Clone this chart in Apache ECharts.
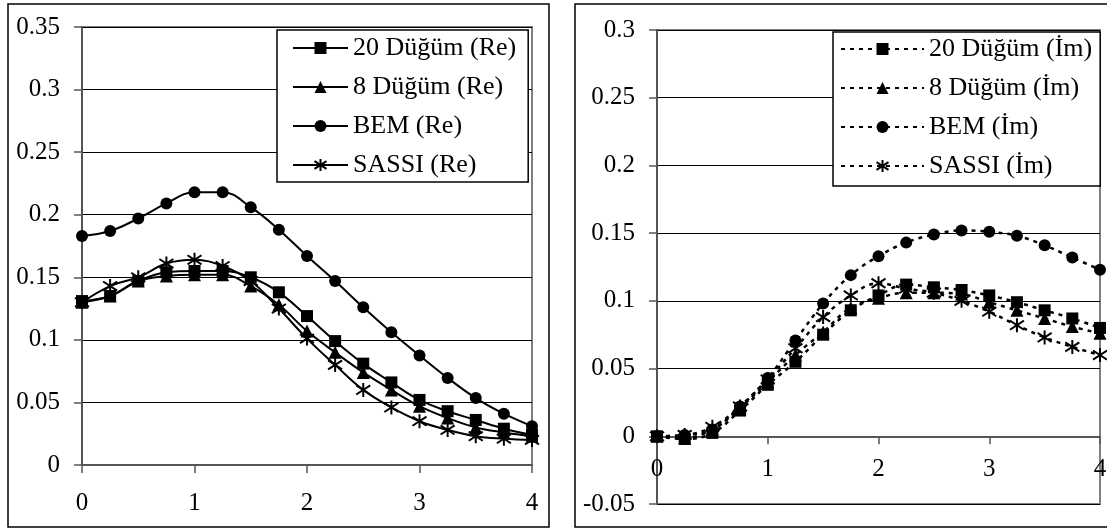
<!DOCTYPE html>
<html>
<head>
<meta charset="utf-8">
<script src="https://cdn.jsdelivr.net/npm/echarts@6/dist/echarts.min.js"></script>
<style>
  body { margin: 0; background: #fff; }
  #chart { width: 1107px; height: 531px; }
</style>
</head>
<body>
<div id="chart"></div>
<script>
// frequency points (x axis)
var xs = [0, 0.25, 0.5, 0.75, 1, 1.25, 1.5, 1.75, 2, 2.25, 2.5, 2.75, 3, 3.25, 3.5, 3.75, 4];

// left chart - real part
var namesRe = ['20 Düğüm (Re)', '8 Düğüm (Re)', 'BEM (Re)', 'SASSI (Re)'];
var node20Re = [0.131, 0.135, 0.147, 0.154, 0.155, 0.155, 0.150, 0.138, 0.119, 0.099, 0.081, 0.066, 0.052, 0.043, 0.036, 0.029, 0.024];
var node8Re  = [0.130, 0.135, 0.147, 0.151, 0.152, 0.152, 0.143, 0.128, 0.107, 0.090, 0.074, 0.060, 0.047, 0.0375, 0.030, 0.026, 0.023];
var bemRe    = [0.183, 0.187, 0.197, 0.209, 0.218, 0.218, 0.206, 0.188, 0.167, 0.147, 0.126, 0.106, 0.0875, 0.0696, 0.0535, 0.041, 0.031];
var sassiRe  = [0.130, 0.143, 0.150, 0.161, 0.164, 0.159, 0.147, 0.125, 0.101, 0.080, 0.060, 0.046, 0.035, 0.028, 0.023, 0.021, 0.020];

// right chart - imaginary part
var namesIm = ['20 Düğüm (İm)', '8 Düğüm (İm)', 'BEM (İm)', 'SASSI (İm)'];
var node20Im = [0, -0.002, 0.0025, 0.019, 0.038, 0.055, 0.075, 0.093, 0.104, 0.112, 0.110, 0.108, 0.104, 0.099, 0.093, 0.087, 0.080];
var node8Im  = [0, -0.001, 0.005, 0.021, 0.040, 0.060, 0.077, 0.095, 0.102, 0.106, 0.106, 0.105, 0.099, 0.093, 0.087, 0.081, 0.076];
var bemIm    = [0, 0.001, 0.005, 0.022, 0.043, 0.0707, 0.098, 0.119, 0.133, 0.143, 0.149, 0.152, 0.151, 0.148, 0.141, 0.132, 0.123];
var sassiIm  = [0, 0.001, 0.007, 0.022, 0.042, 0.065, 0.088, 0.104, 0.113, 0.109, 0.106, 0.100, 0.092, 0.082, 0.073, 0.066, 0.060];

var chart = echarts.init(document.getElementById('chart'));

var font = 'Liberation Serif';
var star = 'path://M10,0L10,20M2.5,3.5L17.5,16.5M2.5,16.5L17.5,3.5';
var symbols = ['rect', 'triangle', 'circle', star];
var sizes = [12, 13, 12, 14];

function pairs(arr) {
  return xs.map(function (x, i) { return [x, arr[i]]; });
}

function makeSeries(names, arrays, idx, dashed) {
  return arrays.map(function (arr, k) {
    return {
      name: names[k],
      type: 'line',
      xAxisIndex: idx,
      yAxisIndex: idx,
      data: pairs(arr),
      smooth: 0.4,
      symbol: symbols[k],
      symbolSize: sizes[k],
      showAllSymbol: true,
      lineStyle: { color: '#000', width: dashed ? 2.5 : 2, type: dashed ? [4, 5] : 'solid' },
      itemStyle: k === 3
        ? { color: '#000', borderColor: '#000', borderWidth: 2 }
        : { color: '#000', borderWidth: 0 },
      emphasis: { disabled: true }
    };
  });
}

// offset moves the right chart's x axis up onto the zero line
function xAxis(idx, margin, offset) {
  return {
    type: 'value', gridIndex: idx, min: 0, max: 4, interval: 1,
    offset: offset,
    axisLine: { onZero: false, lineStyle: { color: '#555', width: 2 } },
    axisTick: { show: true, inside: false, length: 8, lineStyle: { color: '#555', width: 1.5 } },
    axisLabel: { fontFamily: font, fontSize: 25, color: '#000', margin: margin },
    splitLine: { show: false }
  };
}

function yAxis(idx, min, max) {
  return {
    type: 'value', gridIndex: idx, min: min, max: max, interval: 0.05,
    axisLine: { show: true, onZero: false, lineStyle: { color: '#555', width: 2 } },
    axisTick: { show: true, inside: false, length: 8, lineStyle: { color: '#555', width: 1.5 } },
    axisLabel: { fontFamily: font, fontSize: 25, color: '#000', margin: 22 },
    splitLine: { show: true, lineStyle: { color: '#000', width: 1 } }
  };
}

function legend(names, left, top, iconW, pad) {
  return {
    data: names,
    orient: 'vertical',
    left: left,
    top: top,
    itemWidth: iconW,
    itemHeight: 15,
    itemGap: 11,
    itemTextGap: 6,
    padding: pad,
    borderColor: '#000',
    borderWidth: 1.5,
    backgroundColor: '#fff',
    selectedMode: false,
    textStyle: { fontFamily: font, fontSize: 26, lineHeight: 28, color: '#000' }
  };
}

var option = {
  animation: false,
  backgroundColor: '#fff',
  graphic: [
    { type: 'rect', shape: { x: 8, y: 4, width: 541, height: 523 }, style: { fill: 'none', stroke: '#000', lineWidth: 1.5 } },
    { type: 'rect', shape: { x: 575, y: 4, width: 560, height: 523 }, style: { fill: 'none', stroke: '#000', lineWidth: 1.5 } }
  ],
  grid: [
    { left: 82, top: 27, width: 450, height: 438, show: true, borderColor: '#808080', borderWidth: 2, outerBoundsMode: 'none', containLabel: false },
    { left: 657, top: 30, width: 443, height: 474, show: true, borderColor: '#808080', borderWidth: 2, outerBoundsMode: 'none', containLabel: false }
  ],
  legend: [
    legend(namesRe, 277, 30, 55, [4, 12, 3, 15]),
    legend(namesIm, 833, 32, 83, [3, 8, 6, 7])
  ],
  xAxis: [xAxis(0, 26, 0), xAxis(1, 21, -67.7)],
  yAxis: [yAxis(0, 0, 0.35), yAxis(1, -0.05, 0.3)],
  series: makeSeries(namesRe, [node20Re, node8Re, bemRe, sassiRe], 0, false)
    .concat(makeSeries(namesIm, [node20Im, node8Im, bemIm, sassiIm], 1, true))
};

chart.setOption(option);
</script>
</body>
</html>
